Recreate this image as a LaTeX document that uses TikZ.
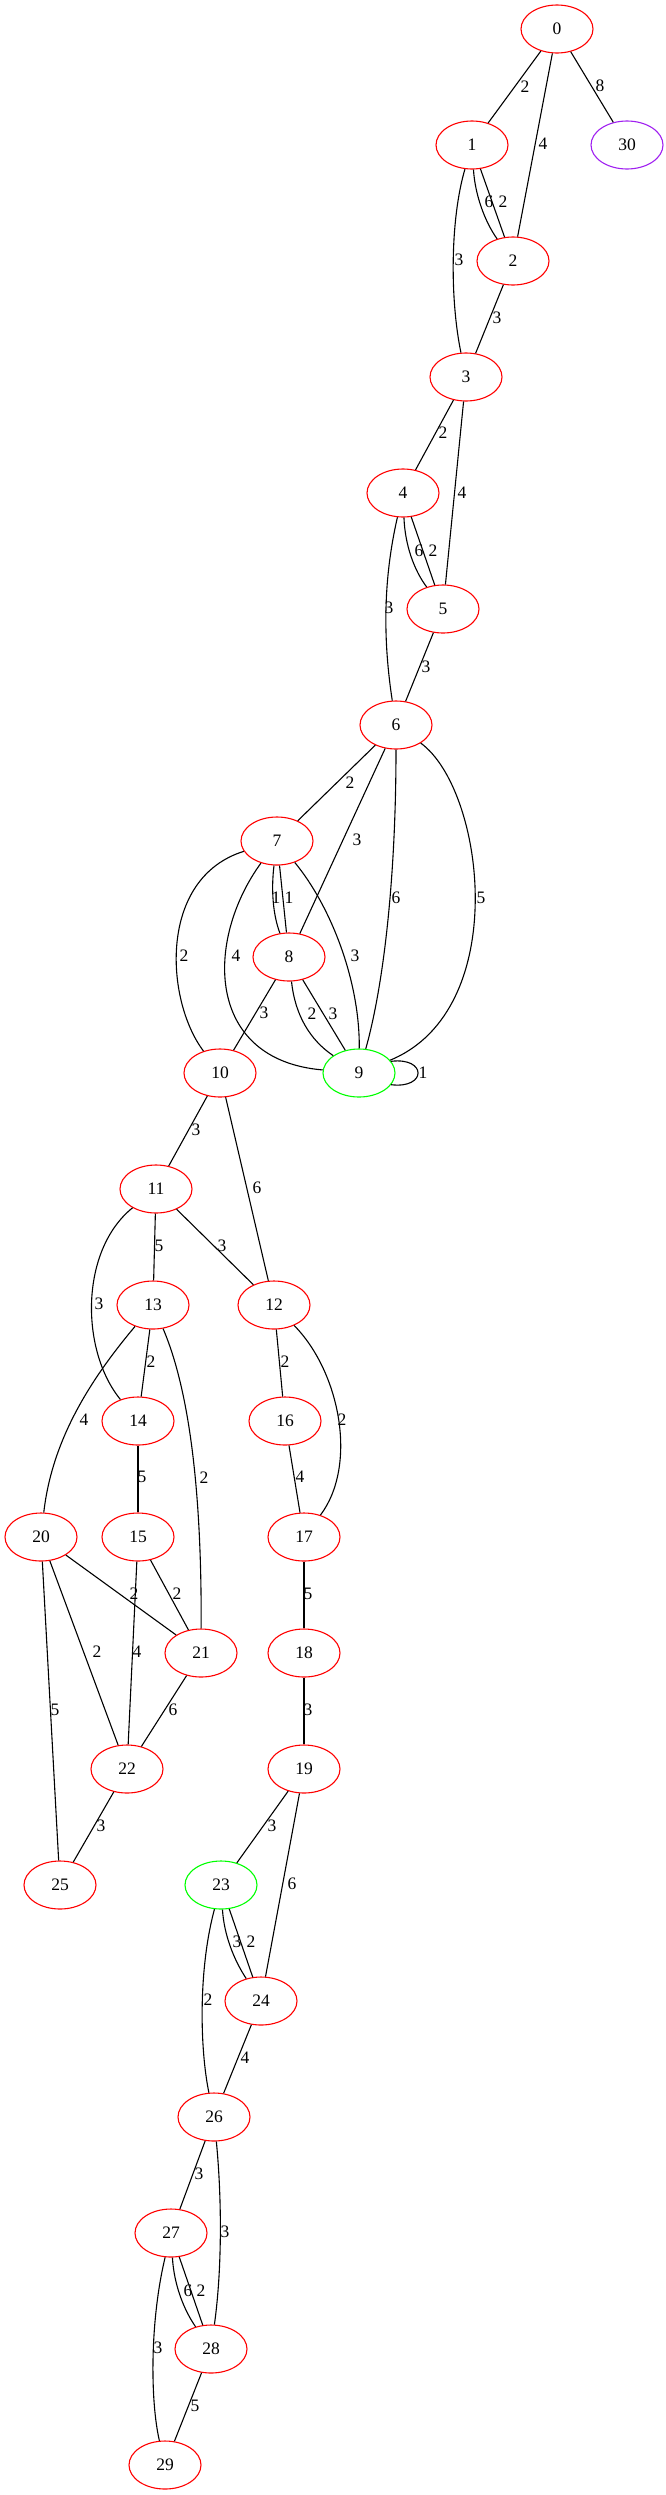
\documentclass[tikz,border=0pt]{standalone}
\usepackage{fontspec}
\setmainfont{Liberation Serif}
\usetikzlibrary{shapes.geometric}
\definecolor{gvred}{RGB}{255,0,0}
\definecolor{gvgreen}{RGB}{0,255,0}
\definecolor{gvpurple}{RGB}{160,32,240}
\begin{document}
\begin{tikzpicture}[x=1pt,y=-1pt,
  vtx/.style={ellipse,draw=gvred,line width=1.1pt,minimum width=72pt,minimum height=48pt,inner sep=0pt,font=\fontsize{17.5}{18}\selectfont},
  startv/.style={vtx,draw=gvgreen},
  lonev/.style={vtx,draw=gvpurple},
  lbl/.style={inner sep=0pt,font=\fontsize{17.5}{18}\selectfont},
  link/.style={line width=1.1pt,draw=black}]
\useasboundingbox (0,0) rectangle (665,2495);
% nodes
\node[vtx] (n0) at (557,29) {0};
\node[vtx] (n1) at (472,145) {1};
\node[lonev] (n30) at (627,145) {30};
\node[vtx] (n2) at (513,261) {2};
\node[vtx] (n3) at (466,377) {3};
\node[vtx] (n4) at (403,493) {4};
\node[vtx] (n5) at (443,609) {5};
\node[vtx] (n6) at (396,725) {6};
\node[vtx] (n7) at (277,841) {7};
\node[vtx] (n8) at (289,957) {8};
\node[startv] (n9) at (359,1073) {9};
\node[vtx] (n10) at (220,1073) {10};
\node[vtx] (n11) at (156,1189) {11};
\node[vtx] (n12) at (274,1305) {12};
\node[vtx] (n13) at (153,1305) {13};
\node[vtx] (n14) at (138,1421) {14};
\node[vtx] (n16) at (285,1421) {16};
\node[vtx] (n15) at (138,1537) {15};
\node[vtx] (n17) at (304,1537) {17};
\node[vtx] (n20) at (41,1537) {20};
\node[vtx] (n18) at (304,1653) {18};
\node[vtx] (n21) at (201,1653) {21};
\node[vtx] (n19) at (304,1769) {19};
\node[vtx] (n22) at (127,1769) {22};
\node[startv] (n23) at (221,1885) {23};
\node[vtx] (n25) at (60,1885) {25};
\node[vtx] (n24) at (261,2001) {24};
\node[vtx] (n26) at (214,2117) {26};
\node[vtx] (n27) at (171,2233) {27};
\node[vtx] (n28) at (211,2349) {28};
\node[vtx] (n29) at (165,2465) {29};
% edges
\draw[link] (n0) -- (n1);
\draw[link] (n0) -- (n2);
\draw[link] (n0) -- (n30);
\draw[link] (n1) .. controls (475,195) and (485,222) .. (n2);
\draw[link] (n1) -- (n2);
\draw[link] (n1) .. controls (450,220) and (450,300) .. (n3);
\draw[link] (n2) -- (n3);
\draw[link] (n3) -- (n4);
\draw[link] (n3) -- (n5);
\draw[link] (n4) .. controls (405,545) and (414,570) .. (n5);
\draw[link] (n4) -- (n5);
\draw[link] (n4) .. controls (383,580) and (383,640) .. (n6);
\draw[link] (n5) -- (n6);
\draw[link] (n6) -- (n7);
\draw[link] (n6) -- (n8);
\draw[link] (n6) .. controls (396,870) and (385,980) .. (n9);
\draw[link] (n6) .. controls (485,790) and (512,1010) .. (n9);
\draw[link] (n7) .. controls (271,890) and (273,915) .. (n8);
\draw[link] (n7) -- (n8);
\draw[link] (n7) .. controls (158,878) and (165,1000) .. (n10);
\draw[link] (n7) .. controls (205,940) and (205,1060) .. (n9);
\draw[link] (n7) .. controls (330,905) and (360,980) .. (n9);
\draw[link] (n8) -- (n10);
\draw[link] (n8) .. controls (295,1015) and (310,1040) .. (n9);
\draw[link] (n8) -- (n9);
\draw[link] (n9.20) .. controls (427,1057) and (427,1089) .. (n9.-20);
\draw[link] (n10) -- (n11);
\draw[link] (n10) -- (n12);
\draw[link] (n11) -- (n13);
\draw[link] (n11) -- (n12);
\draw[link] (n11) .. controls (80,1250) and (80,1350) .. (n14);
\draw[link] (n13) -- (n14);
\draw[link] (n13) .. controls (90,1380) and (52,1440) .. (n20);
\draw[link] (n13) .. controls (185,1380) and (202,1470) .. (n21);
\draw[link] (n12) -- (n16);
\draw[link] (n12) .. controls (340,1372) and (358,1465) .. (n17);
\draw[link] (n14) -- (n15);
\draw[link] (n16) -- (n17);
\draw[link] (n17) -- (n18);
\draw[link] (n20) -- (n21);
\draw[link] (n15) -- (n21);
\draw[link] (n15) -- (n22);
\draw[link] (n20) -- (n22);
\draw[link] (n20) -- (n25);
\draw[link] (n21) -- (n22);
\draw[link] (n18) -- (n19);
\draw[link] (n22) -- (n25);
\draw[link] (n19) -- (n23);
\draw[link] (n19) -- (n24);
\draw[link] (n23) .. controls (224,1935) and (234,1960) .. (n24);
\draw[link] (n23) -- (n24);
\draw[link] (n23) .. controls (198,1970) and (200,2050) .. (n26);
\draw[link] (n24) -- (n26);
\draw[link] (n26) -- (n27);
\draw[link] (n26) .. controls (222,2200) and (222,2270) .. (n28);
\draw[link] (n27) .. controls (174,2285) and (184,2310) .. (n28);
\draw[link] (n27) -- (n28);
\draw[link] (n27) .. controls (150,2320) and (150,2400) .. (n29);
\draw[link] (n28) -- (n29);
% labels
\node[lbl] (l01) at (525,87) {2};
\node[lbl] (l02) at (543,144) {4};
\node[lbl] (l030) at (600,86) {8};
\node[lbl] (l12a) at (489,202) {6};
\node[lbl] (l12b) at (503,202) {2};
\node[lbl] (l13) at (459,260) {3};
\node[lbl] (l23) at (497,318) {3};
\node[lbl] (l34) at (443,433) {2};
\node[lbl] (l35) at (462,493) {4};
\node[lbl] (l45a) at (419,551) {6};
\node[lbl] (l45b) at (433,551) {2};
\node[lbl] (l46) at (389,608) {3};
\node[lbl] (l56) at (426,667) {3};
\node[lbl] (l67) at (350,783) {2};
\node[lbl] (l68) at (357,840) {3};
\node[lbl] (l69a) at (396,898) {6};
\node[lbl] (l69b) at (481,898) {5};
\node[lbl] (l78a) at (276,898) {1};
\node[lbl] (l78b) at (289,898) {1};
\node[lbl] (l710) at (184,956) {2};
\node[lbl] (l79a) at (236,956) {4};
\node[lbl] (l79b) at (355,956) {3};
\node[lbl] (l810) at (264,1013) {3};
\node[lbl] (l89a) at (312,1014) {2};
\node[lbl] (l89b) at (333,1014) {3};
\node[lbl] (l99) at (423,1073) {1};
\node[lbl] (l1011) at (196,1130) {3};
\node[lbl] (l1012) at (257,1188) {6};
\node[lbl] (l1113) at (159,1246) {5};
\node[lbl] (l1112) at (222,1246) {3};
\node[lbl] (l1114) at (99,1304) {3};
\node[lbl] (l1314) at (151,1362) {2};
\node[lbl] (l1320) at (84,1420) {4};
\node[lbl] (l1321) at (204,1478) {2};
\node[lbl] (l1216) at (285,1362) {2};
\node[lbl] (l1217) at (342,1420) {2};
\node[lbl] (l1415) at (142,1477) {5};
\node[lbl] (l1617) at (300,1477) {4};
\node[lbl] (l1718) at (308,1594) {5};
\node[lbl] (l2021) at (134,1594) {2};
\node[lbl] (l1521) at (177,1594) {2};
\node[lbl] (l1522) at (137,1652) {4};
\node[lbl] (l2022) at (97,1652) {2};
\node[lbl] (l2025) at (55,1710) {5};
\node[lbl] (l2122) at (173,1710) {6};
\node[lbl] (l1819) at (308,1710) {3};
\node[lbl] (l2225) at (101,1826) {3};
\node[lbl] (l1923) at (272,1826) {3};
\node[lbl] (l1924) at (292,1884) {6};
\node[lbl] (l2324a) at (237,1942) {3};
\node[lbl] (l2324b) at (251,1942) {2};
\node[lbl] (l2326) at (208,2000) {2};
\node[lbl] (l2426) at (245,2058) {4};
\node[lbl] (l2627) at (199,2174) {3};
\node[lbl] (l2628) at (225,2232) {3};
\node[lbl] (l2728a) at (188,2291) {6};
\node[lbl] (l2728b) at (201,2291) {2};
\node[lbl] (l2729) at (158,2348) {3};
\node[lbl] (l2829) at (195,2406) {5};
\end{tikzpicture}
\end{document}
